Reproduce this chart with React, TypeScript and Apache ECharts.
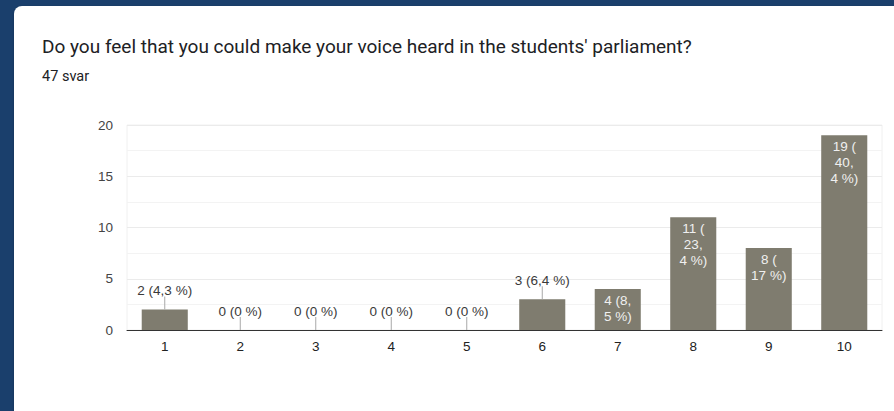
import React, { useEffect, useRef } from "react";
import * as echarts from "echarts";

const categories = ["1", "2", "3", "4", "5", "6", "7", "8", "9", "10"];
const counts = [2, 0, 0, 0, 0, 3, 4, 11, 8, 19];
const labels = [
  "2 (4,3 %)",
  "0 (0 %)",
  "0 (0 %)",
  "0 (0 %)",
  "0 (0 %)",
  "3 (6,4 %)",
  "4 (8,\n5 %)",
  "11 (\n23,\n4 %)",
  "8 (\n17 %)",
  "19 (\n40,\n4 %)",
];
const insideLabel = [false, false, false, false, false, false, true, true, true, true];
const yTicks = [0, 5, 10, 15, 20];
const titleText = "Do you feel that you could make your voice heard in the students' parliament?";
const subtitleText = "47 svar";

const BAR_COLOR = "#7f7c6f";
const FONT = "Arial, 'Liberation Sans', sans-serif";

export default function App() {
  const ref = useRef<HTMLDivElement>(null);
  useEffect(() => {
    if (!ref.current) return;
    const chart = echarts.init(ref.current, null, { renderer: "svg" });
    const barData = counts.map((v, i) => ({
      value: v,
      label: insideLabel[i]
        ? {
            show: true,
            position: "insideTop",
            distance: 3,
            color: "#f0f0f0",
            fontSize: 13.5,
            lineHeight: 16,
            formatter: labels[i],
          }
        : {
            show: true,
            position: "top",
            distance: 12,
            color: "#3a3a3a",
            fontSize: 13.5,
            formatter: labels[i],
          },
    }));
    const leaderData = counts
      .map((v, i) => (insideLabel[i] ? null : [i, v]))
      .filter((d) => d !== null);
    chart.setOption({
      animation: false,
      backgroundColor: "#1a3f6c",
      graphic: [
        {
          type: "rect",
          shape: { x: 14, y: 6, width: 900, height: 420, r: [8, 0, 0, 0] },
          style: {
            fill: "#ffffff",
            shadowBlur: 3,
            shadowColor: "rgba(0,0,0,0.25)",
            shadowOffsetX: 0,
            shadowOffsetY: 1,
          },
          z: -10,
        },
        {
          type: "text",
          x: 42,
          y: 46,
          style: {
            text: titleText,
            font: '19px Roboto, "Noto Sans", sans-serif',
            fill: "#202124",
            verticalAlign: "middle",
          },
        },
        {
          type: "text",
          x: 42,
          y: 76,
          style: {
            text: subtitleText,
            font: '14.5px Roboto, "Noto Sans", sans-serif',
            fill: "#202124",
            verticalAlign: "middle",
          },
        },
      ],
      grid: {
        left: 127,
        right: 12,
        top: 125,
        bottom: 81,
        show: true,
        borderColor: "#f0f0f0",
        borderWidth: 1,
        backgroundColor: "transparent",
      },
      xAxis: {
        type: "category",
        data: categories,
        axisLine: { show: true, lineStyle: { color: "#333333", width: 1 } },
        axisTick: { show: false },
        axisLabel: {
          color: "#222222",
          fontSize: 13.5,
          fontFamily: FONT,
          margin: 9,
        },
        z: 5,
      },
      yAxis: {
        type: "value",
        min: yTicks[0],
        max: yTicks[yTicks.length - 1],
        interval: 5,
        axisLine: { show: false },
        axisTick: { show: false },
        axisLabel: {
          color: "#444444",
          fontSize: 13.5,
          fontFamily: FONT,
          margin: 14,
        },
        splitLine: { show: true, lineStyle: { color: "#ebebeb", width: 1 } },
        minorTick: { show: false, splitNumber: 2 },
        minorSplitLine: { show: true, lineStyle: { color: "#f3f3f3", width: 1 } },
      },
      series: [
        {
          type: "bar",
          data: barData,
          barWidth: "61%",
          itemStyle: { color: BAR_COLOR },
          label: { fontFamily: FONT },
          z: 3,
        },
        {
          type: "custom",
          data: leaderData,
          z: 4,
          renderItem: (params: any, api: any) => {
            const p = api.coord([api.value(0), api.value(1)]);
            return {
              type: "line",
              shape: { x1: p[0], y1: p[1], x2: p[0], y2: p[1] - 13 },
              style: { stroke: "#a8a8a8", lineWidth: 1 },
            };
          },
        },
      ],
    });
    return () => chart.dispose();
  }, []);
  return (
    <div
      ref={ref}
      style={{ position: "absolute", left: 0, top: 0, width: 894, height: 411 }}
    />
  );
}
